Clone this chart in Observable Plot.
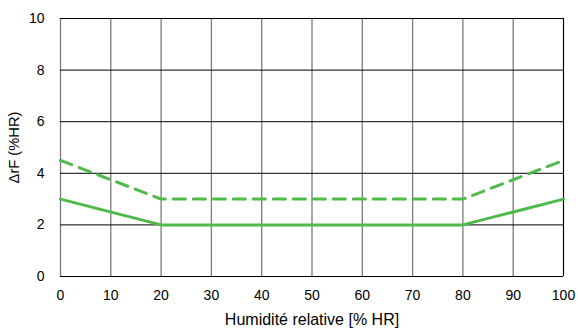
<!DOCTYPE html>
<html><head><meta charset="utf-8">
<script src="https://cdn.jsdelivr.net/npm/d3@7"></script>
<script src="https://cdn.jsdelivr.net/npm/@observablehq/plot@0.6"></script>
<style>
body{margin:0;background:#fff;}
svg{font-family:"Liberation Sans",Arial,sans-serif;}
svg [aria-label="x-axis label"]{font-size:16px;}
svg [aria-label="y-axis label"]{font-size:14.7px;}
</style>
</head><body>
<div id="chart"></div>
<script>
const humidity = [0, 20, 80, 100];
const solidValues = [3, 2, 2, 3];
const dashedValues = [4.5, 3, 3, 4.5];
const xTicks = [0, 10, 20, 30, 40, 50, 60, 70, 80, 90, 100];
const yTicks = [0, 2, 4, 6, 8, 10];

const solid = humidity.map((h, i) => ({x: h, y: solidValues[i]}));
const dashed = humidity.map((h, i) => ({x: h, y: dashedValues[i]}));
const green = "#4fba4a";

const chart = Plot.plot({
  width: 578,
  height: 331,
  marginLeft: 60,
  marginRight: 15,
  marginTop: 18,
  marginBottom: 55,
  style: {fontSize: "14px", fontFamily: "Liberation Sans, Arial, sans-serif", color: "#000"},
  x: {domain: [0, 100], ticks: xTicks, label: "Humidité relative [% HR]", labelArrow: "none", labelAnchor: "center", labelOffset: 48, tickSize: 0, tickPadding: 14},
  y: {domain: [0, 10], ticks: yTicks, label: "ΔrF (%HR)", labelArrow: "none", labelAnchor: "center", labelOffset: 52, tickSize: 0, tickPadding: 16},
  marks: [
    Plot.ruleX(xTicks, {stroke: "#7a7a7a", strokeWidth: 1.3, strokeOpacity: 1}),
    Plot.ruleY(yTicks, {stroke: "#000", strokeWidth: 1, strokeOpacity: 1}),
    Plot.ruleX([100], {stroke: "#000", strokeWidth: 1}),
    Plot.line(solid, {x: "x", y: "y", stroke: green, strokeWidth: 3}),
    Plot.line(dashed, {x: "x", y: "y", stroke: green, strokeWidth: 3, strokeDasharray: "12,8"})
  ]
});
document.getElementById("chart").appendChild(chart);
</script>
</body></html>
